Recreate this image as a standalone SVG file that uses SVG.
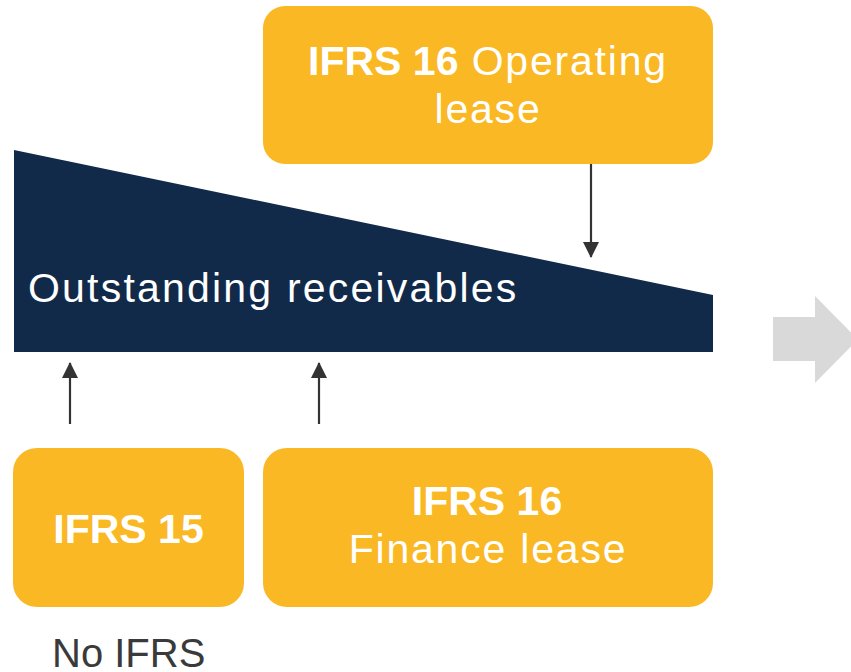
<svg xmlns="http://www.w3.org/2000/svg" width="851" height="672" viewBox="0 0 851 672">
  <style>
    .box { fill: #F9B824; }
    .lbl { font-family: "Liberation Sans", Arial, sans-serif; font-size: 41px; fill: #ffffff; text-anchor: middle; }
    .b { font-weight: bold; }
    .reg { letter-spacing: 1.8px; }
    .link { stroke: #333333; stroke-width: 2.2; fill: none; marker-end: url(#head); }
  </style>
  <defs>
    <marker id="head" markerWidth="16" markerHeight="16" viewBox="0 0 16 16" refX="15" refY="8" orient="auto" markerUnits="userSpaceOnUse">
      <path d="M0,0 L16,8 L0,16 Z" fill="#333333"/>
    </marker>
  </defs>

  <rect width="851" height="672" fill="#ffffff"/>

  <!-- outstanding receivables wedge -->
  <g id="receivables">
    <polygon points="14,150 713,295 713,352 14,352" fill="#122A49"/>
    <text x="28" y="302" font-family="Liberation Sans, Arial, sans-serif" font-size="41" fill="#ffffff" letter-spacing="2.2">Outstanding receivables</text>
  </g>

  <g id="operating-lease">
    <rect class="box" x="263" y="6" width="450" height="158" rx="22"/>
    <text class="lbl" x="488" y="75"><tspan class="b">IFRS 16</tspan><tspan class="reg"> Operating</tspan></text>
    <text class="lbl reg" x="488" y="123">lease</text>
  </g>

  <g id="ifrs15">
    <rect class="box" x="13" y="448" width="231" height="159" rx="24"/>
    <text class="lbl b" x="128.5" y="543">IFRS 15</text>
  </g>

  <g id="finance-lease">
    <rect class="box" x="263" y="448" width="450" height="159" rx="24"/>
    <text class="lbl b" x="487" y="515">IFRS 16</text>
    <text class="lbl reg" x="488" y="563">Finance lease</text>
  </g>

  <g id="no-ifrs">
    <text x="52" y="667" font-family="Liberation Sans, Arial, sans-serif" font-size="40" fill="#3a3a3a">No IFRS</text>
  </g>

  <!-- large outgoing arrow on the right -->
  <g id="next-arrow">
    <polygon points="773,317 815,317 815,296 858,339.5 815,383 815,361 773,361" fill="#D9D9D9"/>
  </g>

  <g id="connectors">
    <line class="link" x1="591" y1="164" x2="591" y2="257"/>
    <line class="link" x1="70" y1="424" x2="70" y2="363"/>
    <line class="link" x1="319" y1="424" x2="319" y2="363"/>
  </g>
</svg>
